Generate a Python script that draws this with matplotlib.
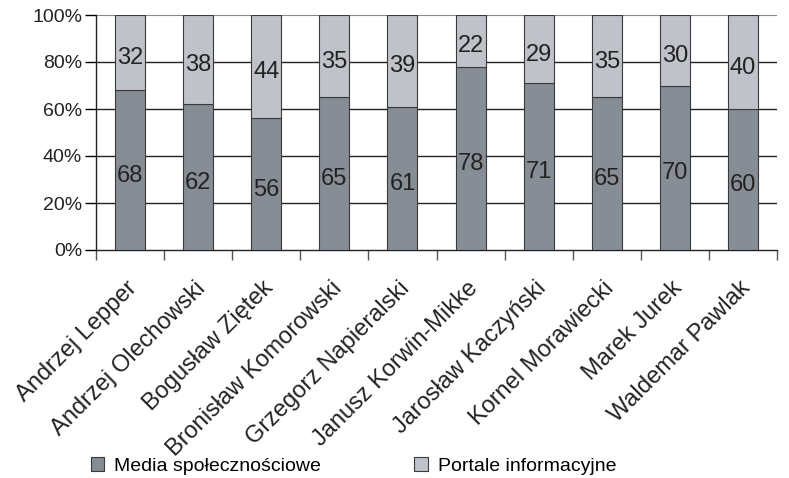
import matplotlib
matplotlib.use("Agg")
import matplotlib.pyplot as plt
from matplotlib.patches import Patch
from matplotlib.transforms import ScaledTranslation

plt.rcParams['font.family'] = ['Liberation Sans', 'DejaVu Sans']

names = ["Andrzej Lepper", "Andrzej Olechowski", "Bogusław Ziętek",
         "Bronisław Komorowski", "Grzegorz Napieralski", "Janusz Korwin-Mikke",
         "Jarosław Kaczyński", "Kornel Morawiecki", "Marek Jurek", "Waldemar Pawlak"]
social = [68, 62, 56, 65, 61, 78, 71, 65, 70, 60]
portals = [32, 38, 44, 35, 39, 22, 29, 35, 30, 40]
yticks = [0, 20, 40, 60, 80, 100]
series_labels = ["Media społecznościowe", "Portale informacyjne"]

dark = "#878d94"
light = "#c0c2ca"
edge = "#3a3a3a"

fig = plt.figure(figsize=(7.89, 4.78), dpi=100)
ax = fig.add_axes([96 / 789, 1 - 250 / 478, 681 / 789, 235 / 478])

x = list(range(len(names)))
width = 0.44
ax.bar(x, social, width, color=dark, edgecolor=edge, linewidth=0.8, zorder=3)
ax.bar(x, portals, width, bottom=social, color=light, edgecolor=edge, linewidth=0.8, zorder=3)

for i in x:
    ax.annotate(str(social[i]), (i, social[i] / 2), xytext=(0, -4),
                textcoords='offset points', ha='center', va='center',
                fontsize=17, color="#222222", zorder=4)
    ax.annotate(str(portals[i]), (i, social[i] + portals[i] / 2), xytext=(0, -4),
                textcoords='offset points', ha='center', va='center',
                fontsize=17, color="#222222", zorder=4)

ax.set_xlim(-0.5, len(names) - 0.5)
ax.set_ylim(0, 100)
ax.set_yticks(yticks)
ax.set_yticklabels([f"{v}%" for v in yticks], fontsize=14, color="#222222")
for v in yticks[1:-1]:
    ax.axhline(v, color="#222222", linewidth=1.0, zorder=1)
ax.axhline(100, color="#888888", linewidth=1.5, zorder=1)

ax.set_xticks(x)
ax.set_xticklabels(names, rotation=45, ha='right', rotation_mode='anchor',
                   fontsize=17, color="#222222")
ax.tick_params(axis='x', length=0, pad=6)
shift = ScaledTranslation(-4 / 100, -19 / 100, fig.dpi_scale_trans)
for lbl in ax.get_xticklabels():
    lbl.set_transform(lbl.get_transform() + shift)
ax.set_xticks([i + 0.5 for i in range(-1, len(names))], minor=True)
ax.tick_params(axis='x', which='minor', length=7, width=1.0, color="#555555")
ax.tick_params(axis='y', length=8, width=1.0, direction='out', pad=2)

for s in ['top', 'right']:
    ax.spines[s].set_visible(False)
ax.spines['left'].set_color("#222222")
ax.spines['bottom'].set_color("#222222")
ax.spines['left'].set_linewidth(1.0)
ax.spines['bottom'].set_linewidth(1.0)

handles = [Patch(facecolor=dark, edgecolor=edge, linewidth=0.8),
           Patch(facecolor=light, edgecolor=edge, linewidth=0.8)]
fig.legend(handles, series_labels, loc='center left',
           bbox_to_anchor=(83 / 789, 1 - 466 / 478),
           ncol=2, frameon=False, fontsize=14, handlelength=0.7, handleheight=0.7,
           handletextpad=0.5, columnspacing=4.8, borderaxespad=0.0)

fig.savefig("out.png", dpi=100)
